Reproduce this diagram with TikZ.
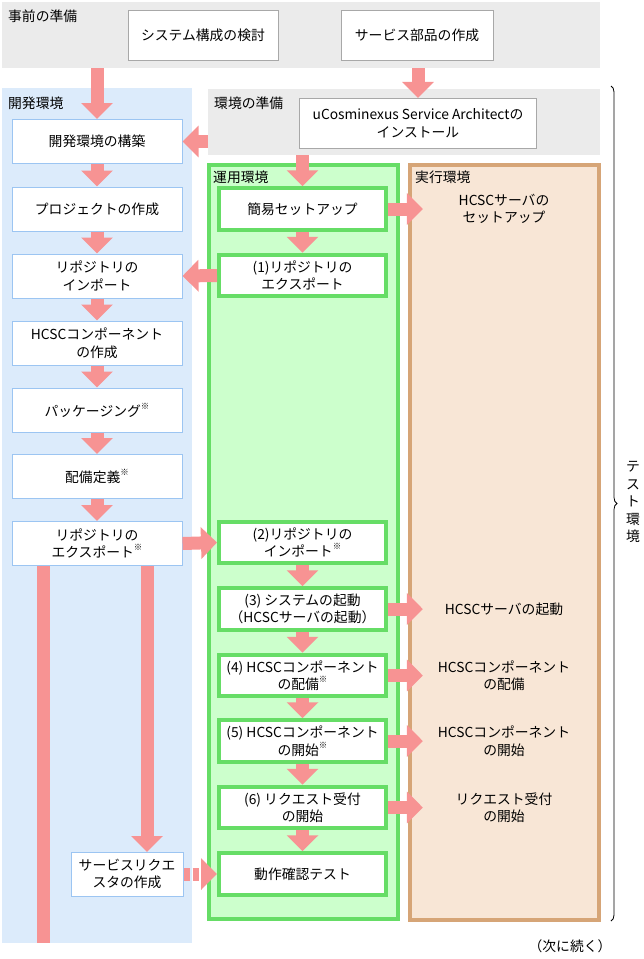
\documentclass[tikz,border=0pt]{standalone}
\usepackage{fontspec}
\setmainfont{Noto Sans CJK JP}
\usetikzlibrary{arrows.meta,decorations.pathreplacing}

\definecolor{arrowpink}{HTML}{F79393}
\definecolor{bandgray}{HTML}{EBEBEB}
\definecolor{bandblue}{HTML}{DCEBFB}
\definecolor{edgeblue}{HTML}{9CC5F2}
\definecolor{edgegray}{HTML}{A8A8A8}
\definecolor{opsfill}{HTML}{CCFFCC}
\definecolor{opsedge}{HTML}{66DD66}
\definecolor{runfill}{HTML}{F8E6D6}
\definecolor{runedge}{HTML}{D6A577}

\newcommand{\kome}{\raisebox{.5em}{\fontsize{8.5}{8.5}\selectfont ※}}

\tikzset{
  band/.style={inner sep=0pt},
  bandlabel/.style={anchor=west, inner sep=0pt},
  prepbox/.style={draw=edgegray, fill=white, minimum height=50pt, align=center},
  devbox/.style={draw=edgeblue, line width=1pt, fill=white, minimum width=170pt, minimum height=44pt, align=center},
  opsbox/.style={draw=opsedge, line width=4pt, fill=white, minimum width=167pt, minimum height=41.5pt, inner xsep=1pt, align=center},
  runtext/.style={minimum width=162pt, align=center},
  bigarrow/.style={draw=arrowpink, line width=13pt, -{Triangle[length=16pt,width=31pt]}},
  bigbar/.style={draw=arrowpink, line width=13pt},
}

\begin{document}
\begin{tikzpicture}[x=1pt, y=-1pt, font=\fontsize{13.8}{17.5}\selectfont]
        \useasboundingbox (0,0) rectangle (643,959);

        \node[band, fill=bandgray, minimum width=598pt, minimum height=66pt] (prep) at (301,35) {};
        \node[bandlabel] (preplabel) at (8,16) {事前の準備};
        \node[prepbox, minimum width=150pt] (study) at (203,35) {システム構成の検討};
        \node[prepbox, minimum width=152pt] (parts) at (417,35) {サービス部品の作成};

        \node[band, fill=bandblue, minimum width=190pt, minimum height=855pt] (dev) at (97,515.5) {};
        \node[bandlabel] (devlabel) at (8,103) {開発環境};

        \node[band, fill=bandgray, minimum width=392pt, minimum height=66pt] (setup) at (404,122) {};
        \node[bandlabel] (setuplabel) at (214,103) {環境の準備};
        \node[prepbox, minimum width=237pt] (install) at (418,123) {uCosminexus Service Architectの\\インストール};

        \node[band, draw=opsedge, line width=4pt, fill=opsfill, minimum width=189pt, minimum height=754pt] (ops) at (303.5,542) {};
        \node[bandlabel] (opslabel) at (213,177) {運用環境};
        \node[band, draw=runedge, line width=3.5pt, fill=runfill, minimum width=189pt, minimum height=755pt] (run) at (504.5,542.5) {};
        \node[bandlabel] (runlabel) at (415,177) {実行環境};

        \node[devbox] (dev1) at (97,141.5) {開発環境の構築};
        \node[devbox] (dev2) at (97,209) {プロジェクトの作成};
        \node[devbox] (dev3) at (97,276) {リポジトリの\\インポート};
        \node[devbox] (dev4) at (97,343) {HCSCコンポーネント\\の作成};
        \node[devbox] (dev5) at (97,410) {パッケージング\kome};
        \node[devbox] (dev6) at (97,476.5) {配備定義\kome};
        \node[devbox] (dev7) at (97,543.5) {リポジトリの\\エクスポート\kome};
        \node[devbox, minimum width=112pt] (req) at (127,874) {サービスリクエ\\スタの作成};

        \node[opsbox] (ops1) at (302.5,209) {簡易セットアップ};
        \node[opsbox] (ops2) at (302.5,275.5) {(1)リポジトリの\\エクスポート};
        \node[opsbox] (ops3) at (302.5,542.5) {(2)リポジトリの\\インポート\kome};
        \node[opsbox] (ops4) at (302.5,609) {(3) システムの起動\\（HCSCサーバの起動）};
        \node[opsbox] (ops5) at (302.5,675.5) {(4) HCSCコンポーネント\\の配備\kome};
        \node[opsbox] (ops6) at (302.5,741) {(5) HCSCコンポーネント\\の開始\kome};
        \node[opsbox] (ops7) at (302.5,807.5) {(6) リクエスト受付\\の開始};
        \node[opsbox] (ops8) at (302.5,874) {動作確認テスト};

        \node[runtext] (run1) at (504,209) {HCSCサーバの\\セットアップ};
        \node[runtext] (run2) at (504,609) {HCSCサーバの起動};
        \node[runtext] (run3) at (504,675.5) {HCSCコンポーネント\\の配備};
        \node[runtext] (run4) at (504,741) {HCSCコンポーネント\\の開始};
        \node[runtext] (run5) at (504,807.5) {リクエスト受付\\の開始};

        \draw[bigarrow] (prep.south -| dev1) -- (dev1);
        \draw[bigarrow] (prep.south -| install) -- (install);
        \draw[bigarrow] (setup.west |- dev1) -- (dev1);
        \draw[bigarrow] (setup.south -| ops1) -- (ops1);

        \foreach \a/\b in {dev1/dev2, dev2/dev3, dev3/dev4, dev4/dev5, dev5/dev6, dev6/dev7}
            \draw[bigarrow] (\a) -- (\b);
        \foreach \a/\b in {ops1/ops2, ops3/ops4, ops4/ops5, ops5/ops6, ops6/ops7, ops7/ops8}
            \draw[bigarrow] (\a) -- (\b);
        \foreach \a/\b in {ops1/run1, ops4/run2, ops5/run3, ops6/run4, ops7/run5}
            \draw[bigarrow] (\a.east) -- (\b.west);

        \draw[bigarrow] (ops2.west) -- (dev3.east);
        \draw[bigarrow] (dev7.east) -- (ops3.west);

        \coordinate (devend) at (43.5,943);
        \coordinate (reqtop) at (147,852);
        \draw[bigbar] (dev7.south -| devend) -- (devend);
        \draw[bigarrow] (dev7.south -| reqtop) -- (reqtop);
        \draw[bigarrow, dash pattern=on 6pt off 3pt] (req) -- (ops8);

        \coordinate (bracetop) at (611,86);
        \coordinate (bracebot) at (611,921);
        \draw[line width=0.8pt, decorate, decoration={brace, amplitude=6pt}] (bracetop) -- (bracebot);
        \node[align=center] (testenv) at (633,502) {テ\\ス\\ト\\環\\境};

        \node (cont) at (570,946) {（次に続く）};
    \end{tikzpicture}
\end{document}
